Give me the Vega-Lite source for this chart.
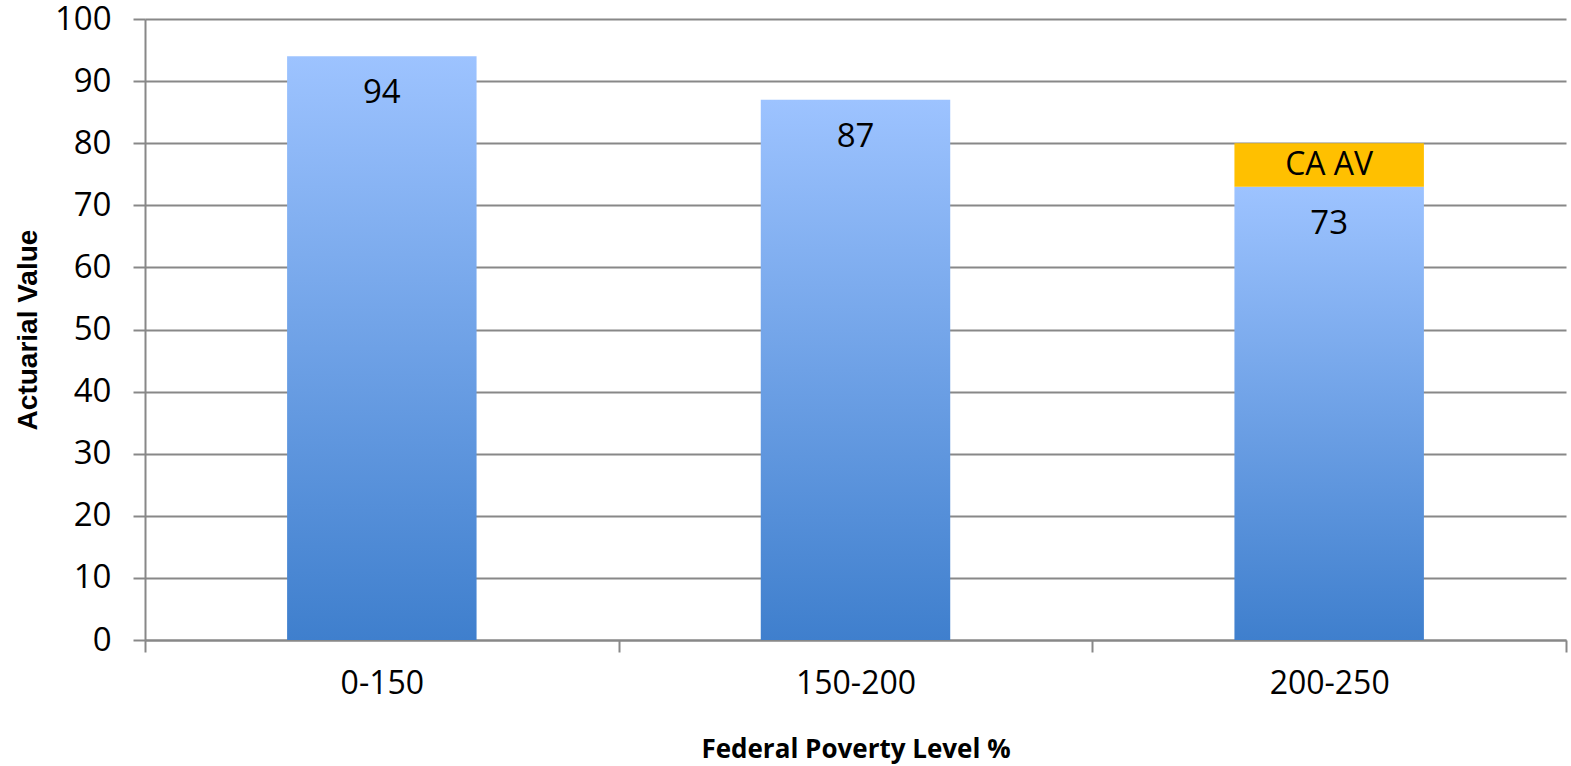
{
  "$schema": "https://vega.github.io/schema/vega-lite/v6.json",
  "autosize": "none",
  "width": 1421,
  "height": 621,
  "padding": {"left": 145, "top": 19, "right": 5, "bottom": 126},
  "background": "white",
  "config": {"view": {"stroke": null}},
  "data": {"values": [
    {"fpl": "0-150", "segment": "base", "start": 0, "end": 94, "label": "94"},
    {"fpl": "150-200", "segment": "base", "start": 0, "end": 87, "label": "87"},
    {"fpl": "200-250", "segment": "base", "start": 0, "end": 73, "label": "73"},
    {"fpl": "200-250", "segment": "CA AV", "start": 73, "end": 80, "label": "CA AV"}
  ]},
  "encoding": {
    "x": {
      "field": "fpl", "type": "nominal", "sort": null,
      "scale": {"paddingInner": 0, "paddingOuter": 0},
      "axis": {
        "title": "Federal Poverty Level %", "titleFont": "Open Sans", "titleFontWeight": "bold", "titleFontSize": 26, "titleColor": "black", "titlePadding": 37,
        "labelFont": "Open Sans", "labelFontSize": 32, "labelColor": "black", "labelPadding": 16, "labelAngle": 0,
        "domainColor": "#888888", "domainWidth": 2, "tickColor": "#888888", "tickWidth": 2, "tickSize": 12, "tickBand": "extent", "grid": false
      }
    }
  },
  "layer": [
    {
      "transform": [{"filter": "datum.segment === 'base'"}],
      "mark": {"type": "bar", "width": {"band": 0.4}, "fill": {"gradient": "linear", "x1": 0, "y1": 0, "x2": 0, "y2": 1, "stops": [{"offset": 0, "color": "#9DC3FF"}, {"offset": 1, "color": "#3F7FCD"}]}},
      "encoding": {
        "y": {"field": "end", "type": "quantitative", "scale": {"domain": [0, 100]},
          "axis": {"title": "Actuarial Value", "titleFont": "Liberation Sans", "titleFontWeight": "bold", "titleFontSize": 28, "titleColor": "black", "titlePadding": 12,
            "values": [0,10,20,30,40,50,60,70,80,90,100],
            "labelFont": "Open Sans", "labelFontSize": 33, "labelColor": "black", "labelPadding": 22,
            "domainColor": "#888888", "domainWidth": 2, "tickColor": "#888888", "tickWidth": 2, "tickSize": 12,
            "gridColor": "#888888", "gridWidth": 2}},
        "y2": {"field": "start"}
      }
    },
    {
      "transform": [{"filter": "datum.segment === 'CA AV'"}],
      "mark": {"type": "bar", "width": {"band": 0.4}, "fill": "#FFC000"},
      "encoding": {
        "y": {"field": "end", "type": "quantitative"},
        "y2": {"field": "start"}
      }
    },
    {
      "transform": [{"filter": "datum.segment === 'base'"}],
      "mark": {"type": "text", "font": "Open Sans", "fontSize": 33, "color": "black", "baseline": "middle", "dy": 37},
      "encoding": {
        "y": {"field": "end", "type": "quantitative"},
        "text": {"field": "label"}
      }
    },
    {
      "transform": [{"filter": "datum.segment === 'CA AV'"}],
      "mark": {"type": "text", "font": "Open Sans", "fontSize": 32, "color": "black", "baseline": "middle", "dy": 22},
      "encoding": {
        "y": {"field": "end", "type": "quantitative"},
        "text": {"field": "label"}
      }
    }
  ]
}
